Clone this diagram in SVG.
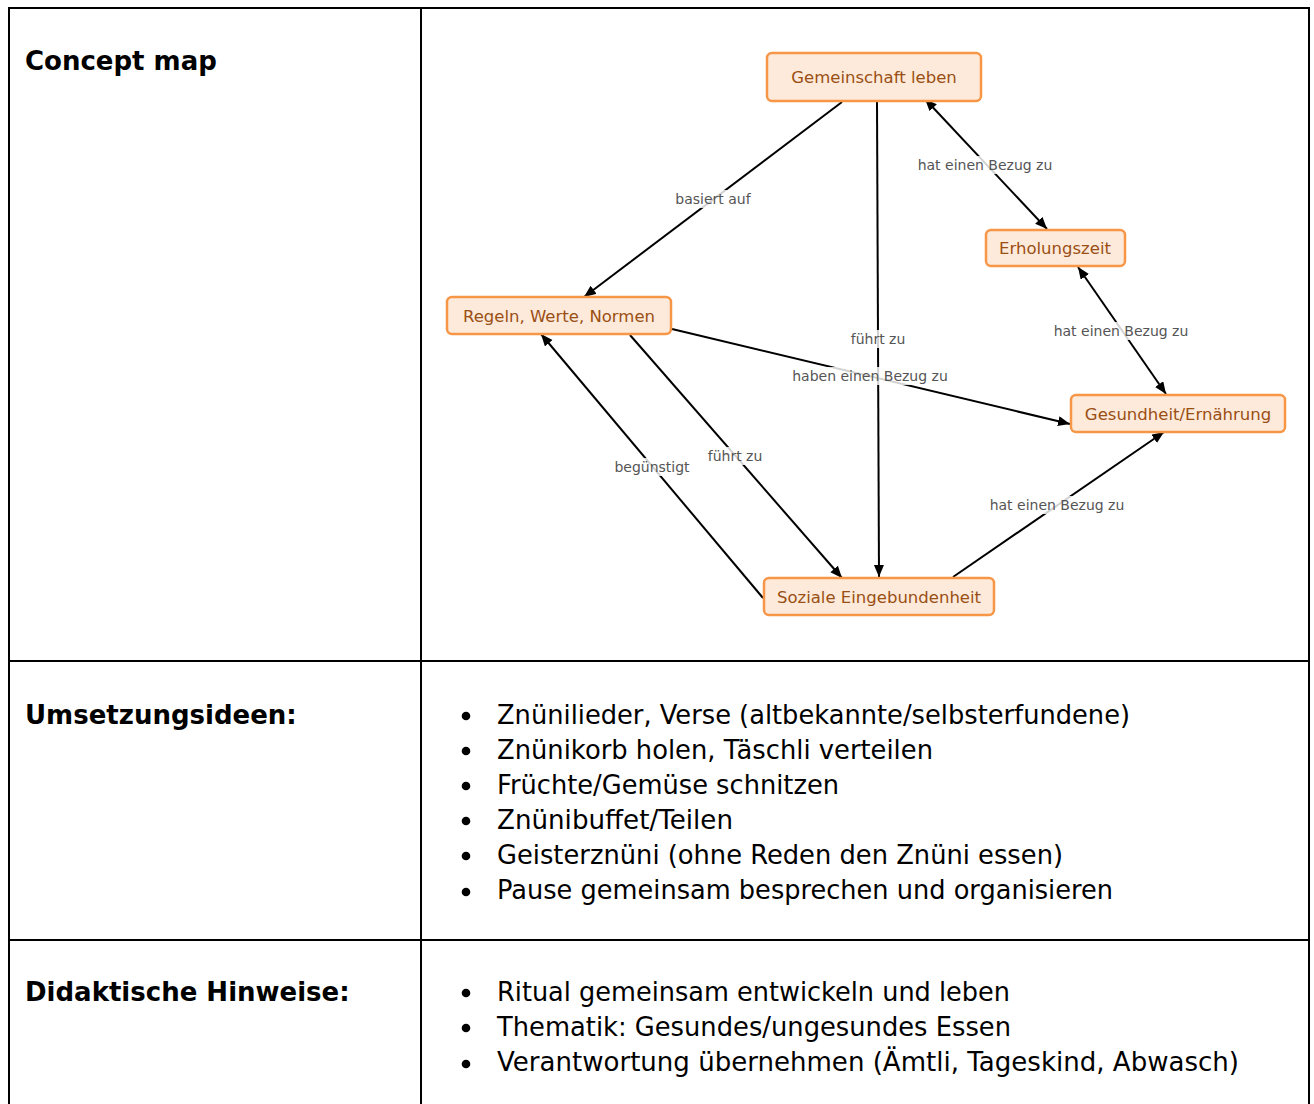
<svg xmlns="http://www.w3.org/2000/svg" width="1314" height="1104" viewBox="0 0 1314 1104">
  <defs>
    <marker id="arr" markerUnits="userSpaceOnUse" markerWidth="13" markerHeight="11" refX="12" refY="5" orient="auto-start-reverse">
      <path d="M0,0 L12,5 L0,10 Z" fill="#000"/>
    </marker>
    <style>
      .grid { stroke: #000; stroke-width: 2; fill: none; }
      .node rect { fill: #FDEADA; stroke: #F79646; stroke-width: 2.5; }
      .node text { font-family: "DejaVu Sans", Verdana, sans-serif; font-size: 16.5px; fill: #9A4F14; text-anchor: middle; }
      .edge { stroke: #000; stroke-width: 2; fill: none; }
      .lblbg { fill: #fff; fill-opacity: 0.82; }
      .lbl { font-family: "DejaVu Sans", Verdana, sans-serif; font-size: 14px; fill: #555; text-anchor: middle; }
      .head { font-family: "DejaVu Sans", Verdana, sans-serif; font-size: 26px; font-weight: bold; fill: #000; }
      .body { font-family: "DejaVu Sans", Verdana, sans-serif; font-size: 27px; fill: #000; }
    </style>
  </defs>
  <rect width="1314" height="1104" fill="#fff"/>

  <g id="table">
    <line class="grid" x1="8" y1="8" x2="1310" y2="8"/>
    <line class="grid" x1="9" y1="7" x2="9" y2="1104"/>
    <line class="grid" x1="1309" y1="7" x2="1309" y2="1104"/>
    <line class="grid" x1="421" y1="8" x2="421" y2="1104"/>
    <line class="grid" x1="8" y1="661" x2="1310" y2="661"/>
    <line class="grid" x1="8" y1="940" x2="1310" y2="940"/>
  </g>

  <g id="row-labels">
    <text class="head" x="25" y="70">Concept map</text>
    <text class="head" x="25" y="724">Umsetzungsideen:</text>
    <text class="head" x="25" y="1001">Didaktische Hinweise:</text>
  </g>

  <g id="umsetzungsideen">
    <circle cx="466" cy="716" r="4.3"/>
    <circle cx="466" cy="751" r="4.3"/>
    <circle cx="466" cy="786" r="4.3"/>
    <circle cx="466" cy="821" r="4.3"/>
    <circle cx="466" cy="856" r="4.3"/>
    <circle cx="466" cy="892" r="4.3"/>
    <text class="body" x="497" y="723.5" textLength="633" lengthAdjust="spacingAndGlyphs">Znünilieder, Verse (altbekannte/selbsterfundene)</text>
    <text class="body" x="497" y="758.6" textLength="436" lengthAdjust="spacingAndGlyphs">Znünikorb holen, Täschli verteilen</text>
    <text class="body" x="497" y="793.7" textLength="342" lengthAdjust="spacingAndGlyphs">Früchte/Gemüse schnitzen</text>
    <text class="body" x="497" y="828.8" textLength="236" lengthAdjust="spacingAndGlyphs">Znünibuffet/Teilen</text>
    <text class="body" x="497" y="863.9" textLength="566" lengthAdjust="spacingAndGlyphs">Geisterznüni (ohne Reden den Znüni essen)</text>
    <text class="body" x="497" y="899" textLength="616" lengthAdjust="spacingAndGlyphs">Pause gemeinsam besprechen und organisieren</text>
  </g>

  <g id="didaktische-hinweise">
    <circle cx="466" cy="993" r="4.3"/>
    <circle cx="466" cy="1028" r="4.3"/>
    <circle cx="466" cy="1064" r="4.3"/>
    <text class="body" x="497" y="1000.5" textLength="513" lengthAdjust="spacingAndGlyphs">Ritual gemeinsam entwickeln und leben</text>
    <text class="body" x="497" y="1035.6" textLength="514" lengthAdjust="spacingAndGlyphs">Thematik: Gesundes/ungesundes Essen</text>
    <text class="body" x="497" y="1070.7" textLength="742" lengthAdjust="spacingAndGlyphs">Verantwortung übernehmen (Ämtli, Tageskind, Abwasch)</text>
  </g>

  <g id="connectors">
    <line class="edge" x1="842" y1="102" x2="584" y2="297" marker-end="url(#arr)"/>
    <line class="edge" x1="877" y1="102" x2="879" y2="577" marker-end="url(#arr)"/>
    <line class="edge" x1="925" y1="99" x2="1047" y2="229" marker-start="url(#arr)" marker-end="url(#arr)"/>
    <line class="edge" x1="1078" y1="267" x2="1166" y2="394" marker-start="url(#arr)" marker-end="url(#arr)"/>
    <line class="edge" x1="672" y1="329" x2="1070" y2="424" marker-end="url(#arr)"/>
    <line class="edge" x1="630" y1="335" x2="842" y2="578" marker-end="url(#arr)"/>
    <line class="edge" x1="763" y1="598" x2="541" y2="334" marker-end="url(#arr)"/>
    <line class="edge" x1="953" y1="577" x2="1164" y2="432" marker-end="url(#arr)"/>

    <rect class="lblbg" x="673" y="190" width="80" height="18"/>
    <text class="lbl" x="713" y="203.5">basiert auf</text>
    <rect class="lblbg" x="848" y="330" width="60" height="18"/>
    <text class="lbl" x="878" y="344">führt zu</text>
    <rect class="lblbg" x="914" y="156" width="142" height="18"/>
    <text class="lbl" x="985" y="170">hat einen Bezug zu</text>
    <rect class="lblbg" x="1050" y="322" width="142" height="18"/>
    <text class="lbl" x="1121" y="336">hat einen Bezug zu</text>
    <rect class="lblbg" x="789" y="367" width="163" height="18"/>
    <text class="lbl" x="870" y="381">haben einen Bezug zu</text>
    <rect class="lblbg" x="705" y="447" width="60" height="18"/>
    <text class="lbl" x="735" y="461">führt zu</text>
    <rect class="lblbg" x="612" y="458" width="81" height="18"/>
    <text class="lbl" x="652" y="472">begünstigt</text>
    <rect class="lblbg" x="986" y="496" width="142" height="18"/>
    <text class="lbl" x="1057" y="510">hat einen Bezug zu</text>
  </g>

  <g id="n-gemeinschaft" class="node">
    <rect x="767" y="53" width="214" height="48" rx="5"/>
    <text x="874" y="83">Gemeinschaft leben</text>
  </g>
  <g id="n-erholungszeit" class="node">
    <rect x="986" y="230" width="139" height="36" rx="5"/>
    <text x="1055" y="254">Erholungszeit</text>
  </g>
  <g id="n-regeln" class="node">
    <rect x="447" y="297" width="224" height="37" rx="5"/>
    <text x="559" y="322">Regeln, Werte, Normen</text>
  </g>
  <g id="n-gesundheit" class="node">
    <rect x="1071" y="395" width="214" height="37" rx="5"/>
    <text x="1178" y="420">Gesundheit/Ernährung</text>
  </g>
  <g id="n-soziale" class="node">
    <rect x="764" y="578" width="230" height="37" rx="5"/>
    <text x="879" y="603">Soziale Eingebundenheit</text>
  </g>
</svg>
